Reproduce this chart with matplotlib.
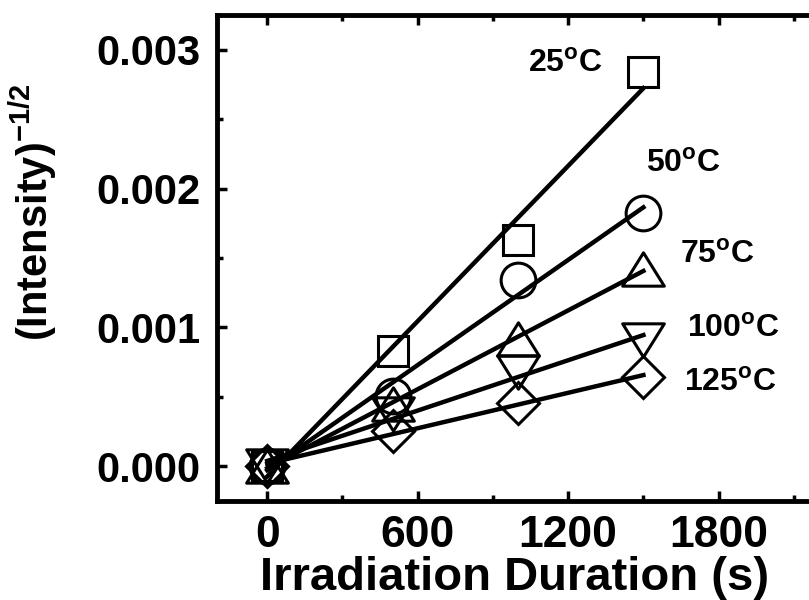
import matplotlib
matplotlib.use("Agg")
import matplotlib.pyplot as plt
from matplotlib.path import Path
import numpy as np

plt.rcParams['font.family'] = ['Liberation Sans', 'DejaVu Sans']
plt.rcParams['font.weight'] = 'bold'
plt.rcParams['mathtext.fontset'] = 'custom'
plt.rcParams['mathtext.rm'] = 'Liberation Sans'
plt.rcParams['mathtext.bf'] = 'Liberation Sans:bold'

# irradiation time (s)
t = [0, 500, 1000, 1500]

# (intensity)^-1/2 at each temperature
y25 = [0.0, 0.000828, 0.00163, 0.00284]
y50 = [0.0, 0.000505, 0.001344, 0.001824]
y75 = [0.0, 0.00045, 0.000914, 0.001423]
y100 = [0.0, 0.00038, 0.00068, 0.000907]
y125 = [0.0, 0.000254, 0.000455, 0.000642]

labels = ['25', '50', '75', '100', '125']
label_x = [1040, 1512, 1644, 1672, 1660]
label_y = [0.002842, 0.002118, 0.001466, 0.000935, 0.000541]

# flattened triangles, wider than tall
tri_up = Path([(0, 0.8), (-1, -0.8), (1, -0.8), (0, 0.8)], closed=True)
tri_dn = Path([(0, -0.8), (-1, 0.8), (1, 0.8), (0, -0.8)], closed=True)

series = [y25, y50, y75, y100, y125]
markers = ['s', 'o', tri_up, tri_dn, 'D']
msizes = [21, 25, 30, 30, 21]

fig = plt.figure(figsize=(8.09, 6.0), dpi=100)
ax = fig.add_axes([217 / 809, 99 / 600, 602 / 809, 486 / 600])

for ys, m, ms in zip(series, markers, msizes):
    ax.plot(t, ys, linestyle='none', marker=m, markersize=ms,
            markerfacecolor='none', markeredgecolor='black',
            markeredgewidth=2.2, zorder=3)
    # linear fit over the measured range
    k, b = np.polyfit(t, ys, 1)
    xs = np.array([t[0], t[-1]])
    ax.plot(xs, k * xs + b, color='black', lw=3.2, zorder=4)

for lab, lx, ly in zip(labels, label_x, label_y):
    ax.text(lx, ly, lab + r'$^{\rm o}$C', fontsize=23, fontweight='bold',
            ha='left', va='baseline')

ax.set_xlim(-200, 2200)
ax.set_ylim(-0.00025, 0.00325)
ax.set_xticks([0, 600, 1200, 1800])
ax.set_xticks(np.arange(300, 2200, 600), minor=True)
ax.set_yticks([0.0, 0.001, 0.002, 0.003])
ax.set_yticks([0.0005, 0.0015, 0.0025], minor=True)
ax.yaxis.set_major_formatter(plt.FormatStrFormatter('%.3f'))

ax.tick_params(which='both', direction='in', top=True, right=True,
               width=2.5, color='black')
ax.tick_params(which='major', length=7)
ax.tick_params(which='minor', length=4)
ax.tick_params(axis='x', which='major', labelsize=32, pad=10)
ax.tick_params(axis='y', which='major', labelsize=30, pad=12)
for lab in ax.get_xticklabels() + ax.get_yticklabels():
    lab.set_fontweight('bold')
for sp in ax.spines.values():
    sp.set_linewidth(3.5)

fig.text(515 / 809, 1 - 590 / 600, 'Irradiation Duration (s)', fontsize=34,
         fontweight='bold', ha='center', va='baseline')
fig.text(33 / 809, 1 - 212 / 600, r'(Intensity)$^{-1/2}$', fontsize=30,
         fontweight='bold', ha='center', va='center', rotation=90)

fig.savefig('out.png', dpi=100)
